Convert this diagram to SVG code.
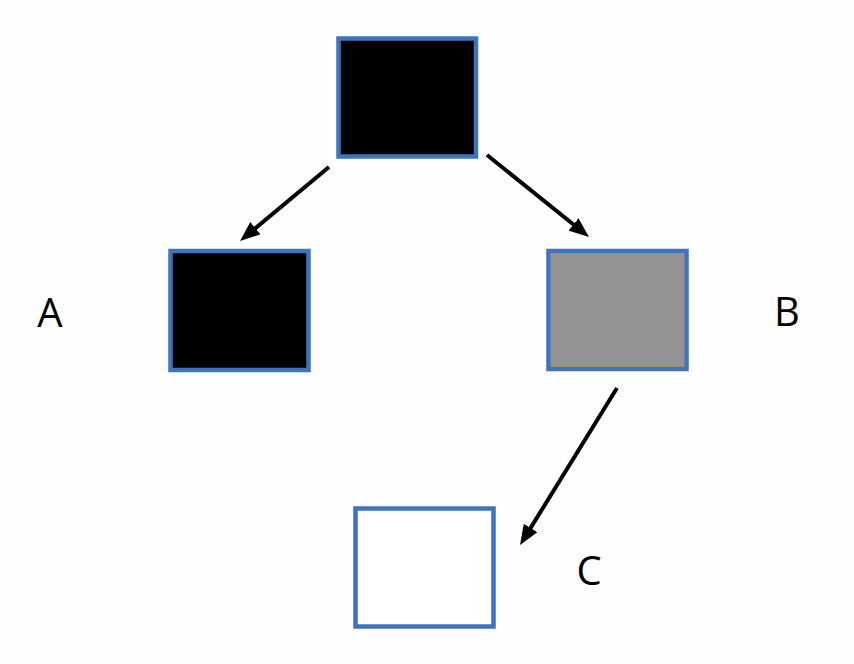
<svg xmlns="http://www.w3.org/2000/svg" width="854" height="664" viewBox="0 0 854 664">
<defs>
<style>
.box{stroke:#3d74bd;stroke-width:4.5}
.lbl{font-family:"Open Sans","Noto Sans",sans-serif;font-size:40px;fill:#000;text-anchor:middle}
.conn{stroke:#000;stroke-width:4;fill:none;marker-end:url(#ah)}
</style>
<marker id="ah" viewBox="0 0 20 16" refX="6" refY="8" markerWidth="20" markerHeight="16" markerUnits="userSpaceOnUse" orient="auto">
<path d="M0,0 L20,8 L0,16 z" fill="#000"/>
</marker>
</defs>
<rect width="854" height="664" fill="#fefefe"/>
<g id="connectors">
<line class="conn" x1="329" y1="167" x2="250.8" y2="232"/>
<line class="conn" x1="487" y1="155" x2="578.1" y2="228.2"/>
<line class="conn" x1="617" y1="388" x2="527.4" y2="533.1"/>
</g>
<g id="node-top">
<rect class="box" x="338.5" y="38.5" width="137.5" height="118" fill="#000"/>
</g>
<g id="node-A">
<rect class="box" x="170.5" y="251" width="138" height="119" fill="#000"/>
<text class="lbl" x="50" y="327">A</text>
</g>
<g id="node-B">
<rect class="box" x="548.5" y="251" width="138" height="118" fill="#939393"/>
<rect x="551" y="253.5" width="133" height="113" fill="none" stroke="#a0906e" stroke-width="0.8"/>
<text class="lbl" x="787" y="326">B</text>
</g>
<g id="node-C">
<rect class="box" x="355.5" y="508.5" width="138" height="118" fill="#fff"/>
<text class="lbl" x="589" y="585">C</text>
</g>
</svg>
